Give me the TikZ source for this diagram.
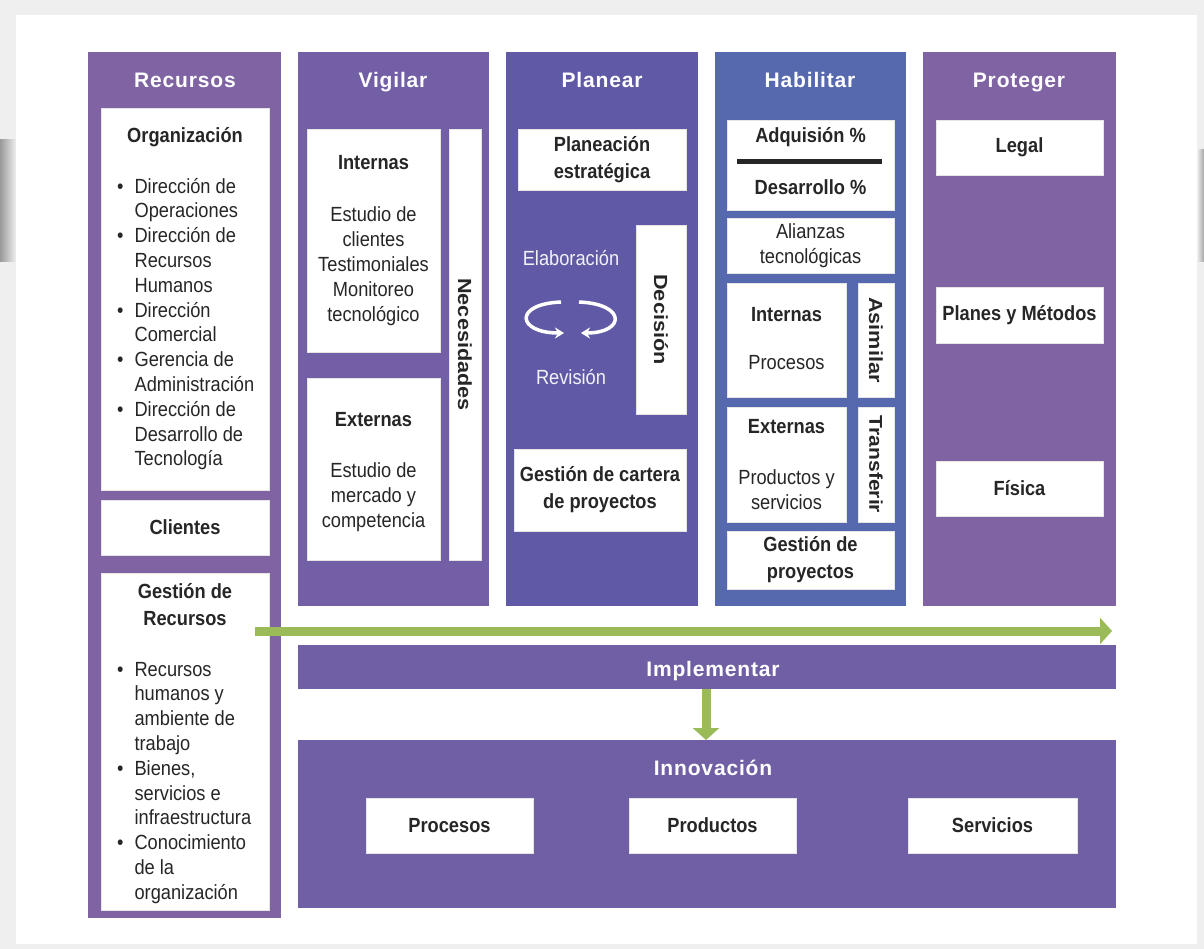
\documentclass[tikz,border=0pt]{standalone}
\usepackage{fontspec}
\setmainfont{Liberation Sans}[FakeStretch=0.89]
\newfontfamily\headfont{Liberation Sans}[LetterSpace=4]
\newfontfamily\vertfont{Liberation Sans}[FakeStretch=1.14]
\usetikzlibrary{arrows.meta}

\definecolor{recpurple}{HTML}{7F63A3}
\definecolor{vigpurple}{HTML}{725FA5}
\definecolor{planblue}{HTML}{605AA6}
\definecolor{habblue}{HTML}{5668AE}
\definecolor{implpurple}{HTML}{705FA5}
\definecolor{leaf}{HTML}{9BBB59}
\definecolor{ink}{HTML}{262626}
\definecolor{pagegray}{HTML}{EFEFEF}

% rectangular block given by its top-left and bottom-right corners
\newcommand\blk[7]{%
  \node[#1, anchor=north west, inner sep=0pt, outer sep=0pt,
        minimum width={#5pt-#3pt}, minimum height={#6pt-#4pt}] (#2) at (#3,#4) {#7};}

\tikzset{
  panel/.style={fill=#1, draw=none},
  card/.style={fill=white, draw=black!10, line width=0.5pt,
               text=ink, align=center, font=\fontsize{20.5}{27}\selectfont\bfseries},
  head/.style={text=white, inner sep=0pt, font=\headfont\fontsize{21}{25}\selectfont\bfseries},
  lbl/.style={text=ink, align=center, inner sep=0pt, font=\fontsize{20.5}{25}\selectfont},
  blbl/.style={text=ink, align=center, inner sep=0pt, font=\fontsize{20.5}{27}\selectfont\bfseries},
  wlbl/.style={text=white!92!planblue, inner sep=0pt, font=\fontsize{20.5}{25}\selectfont},
  vlbl/.style={text=ink, inner sep=0pt, rotate=-90, font=\vertfont\fontsize{19}{22}\selectfont\bfseries},
  bigarrow/.style={leaf, line width=9pt, -{Triangle[length=12pt,width=26pt]}},
  cyclearrow/.style={white, line width=3.5pt, -{Stealth[length=9pt,width=11pt]}}
}

\begin{document}
\begin{tikzpicture}[x=1pt,y=-1pt]
% page and card
\fill[pagegray] (0,0) rectangle (1204,949);
\shade[left color=black!40, right color=pagegray] (0,140) rectangle (16,262);
\shade[right color=black!35, left color=pagegray] (1197,150) rectangle (1204,262);
\fill[white] (16,15) rectangle (1197,944);
\useasboundingbox (0,0) rectangle (1204,949);

% ---------- Recursos ----------
\blk{panel=recpurple}{recursos}{88}{52}{281}{918}{}
\node[head, anchor=base] (hrec) at (185,88) {Recursos};
\blk{card}{org}{101}{108}{269}{490}{}
\node[blbl] (orgt) at (185,137) {Organización};
\node[lbl, anchor=north west, font=\fontsize{20.5}{24.8}\selectfont] (orgl) at (117,175.6) {%
  \begin{tabular}{@{}l@{\hspace{11pt}}l@{}}
  \textbullet & Dirección de\\
              & Operaciones\\
  \textbullet & Dirección de\\
              & Recursos\\
              & Humanos\\
  \textbullet & Dirección\\
              & Comercial\\
  \textbullet & Gerencia de\\
              & Administración\\
  \textbullet & Dirección de\\
              & Desarrollo de\\
              & Tecnología
  \end{tabular}};
\blk{card}{clientes}{101}{500}{269}{555}{Clientes}
\blk{card}{gest}{101}{573}{269}{910}{}
\node[blbl] (gestt) at (185,605) {Gestión de\\Recursos};
\node[lbl, anchor=north west, font=\fontsize{20.5}{24.8}\selectfont] (gestl) at (117,658.6) {%
  \begin{tabular}{@{}l@{\hspace{11pt}}l@{}}
  \textbullet & Recursos\\
              & humanos y\\
              & ambiente de\\
              & trabajo\\
  \textbullet & Bienes,\\
              & servicios e\\
              & infraestructura\\
  \textbullet & Conocimiento\\
              & de la\\
              & organización
  \end{tabular}};

% ---------- Vigilar ----------
\blk{panel=vigpurple}{vigilar}{298}{52}{489}{606}{}
\node[head, anchor=base] (hvig) at (393,88) {Vigilar};
\blk{card}{vint}{307}{129}{440}{352}{}
\node[blbl] (vintt) at (373.5,163) {Internas};
\node[lbl] (vintb) at (373.5,266) {Estudio de\\clientes\\Testimoniales\\Monitoreo\\tecnológico};
\blk{card}{vext}{307}{378}{440}{560}{}
\node[blbl] (vextt) at (373.5,420) {Externas};
\node[lbl] (vextb) at (373.5,497) {Estudio de\\mercado y\\competencia};
\blk{card}{nec}{449}{129}{481}{560}{}
\node[vlbl] (nect) at (nec.center) {Necesidades};

% ---------- Planear ----------
\blk{panel=planblue}{planear}{506}{52}{698}{606}{}
\node[head, anchor=base] (hpla) at (602,88) {Planear};
\blk{card}{pest}{518}{129}{686}{190}{Planeación\\estratégica}
\blk{card}{dec}{636}{225}{686}{414}{}
\node[vlbl] (dect) at (dec.center) {Decisión};
\node[wlbl] (elab) at (571,258) {Elaboración};
\node[wlbl] (rev) at (571,377) {Revisión};
\coordinate (cyc) at (571,317);
\draw[cyclearrow] ([shift={(-10,-15)}]cyc) .. controls ([shift={(-58,-13)}]cyc) and ([shift={(-54,16)}]cyc) .. ([shift={(-7,16)}]cyc);
\draw[cyclearrow] ([shift={(8,-15)}]cyc) .. controls ([shift={(56,-13)}]cyc) and ([shift={(54,16)}]cyc) .. ([shift={(10,16)}]cyc);
\blk{card}{cart}{514}{449}{686}{531}{Gestión de cartera\\de proyectos}

% ---------- Habilitar ----------
\blk{panel=habblue}{habilitar}{715}{52}{906}{606}{}
\node[head, anchor=base] (hhab) at (810,88) {Habilitar};
\blk{card}{adq}{727}{120}{894}{210}{}
\node[blbl] (adqt) at (810.5,137) {Adquisión \%};
\node[blbl] (dest) at (810.5,187) {Desarrollo \%};
\draw[ink, line width=5pt] (737,162) -- (882,162);
\blk{card}{ali}{727}{218}{894}{273}{}
\node[lbl] (alit) at (ali.center) {Alianzas\\tecnológicas};
\blk{card}{hint}{727}{283}{846}{397}{}
\node[blbl] (hintt) at (786.5,315) {Internas};
\node[lbl] (hintb) at (786.5,363) {Procesos};
\blk{card}{asim}{858}{283}{894}{397}{}
\node[vlbl] (asimt) at (asim.center) {Asimilar};
\blk{card}{hext}{727}{407}{846}{522}{}
\node[blbl] (hextt) at (786.5,427) {Externas};
\node[lbl] (hextb) at (786.5,490) {Productos y\\servicios};
\blk{card}{transf}{858}{407}{894}{522}{}
\node[vlbl, font=\vertfont\fontsize{18.5}{22}\selectfont\bfseries] (transft) at (transf.center) {Transferir};
\blk{card}{gproy}{727}{531}{894}{589}{Gestión de\\proyectos}

% ---------- Proteger ----------
\blk{panel=recpurple}{proteger}{923}{52}{1116}{606}{}
\node[head, anchor=base] (hpro) at (1019,88) {Proteger};
\blk{card}{legal}{936}{120}{1103}{175}{Legal}
\blk{card}{planes}{936}{287}{1103}{343}{Planes y Métodos}
\blk{card}{fisica}{936}{461}{1103}{516}{Física}

% ---------- Implementar / Innovación ----------
\blk{panel=implpurple}{impl}{298}{645}{1116}{689}{}
\node[head, anchor=base] (himp) at (713,676) {Implementar};
\blk{panel=implpurple}{innov}{298}{740}{1116}{908}{}
\node[head, anchor=base] (hinn) at (713,775) {Innovación};
\blk{card}{procesos}{366}{798}{533}{853}{Procesos}
\blk{card}{productos}{629}{798}{796}{853}{Productos}
\blk{card}{servicios}{908}{798}{1077}{853}{Servicios}

% ---------- flow arrows ----------
\coordinate (hstart) at (255,631);
\coordinate (hend) at (1112,631);
\draw[bigarrow] (hstart) -- (hend);
\coordinate (dnx) at (706,0);
\draw[bigarrow] (impl.south -| dnx) -- (innov.north -| dnx);
\end{tikzpicture}
\end{document}
